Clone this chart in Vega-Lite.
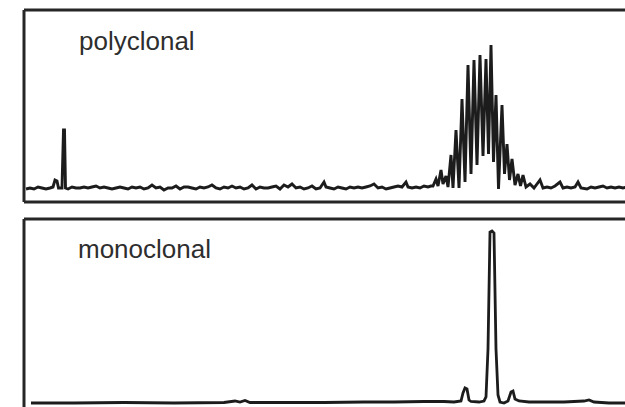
{
  "$schema": "https://vega.github.io/schema/vega-lite/v6.json",
  "padding": {"left": 21, "top": 8, "right": 0, "bottom": 0},
  "spacing": 17,
  "bounds": "flush",
  "background": "white",
  "config": {"view": {"stroke": null}},
  "datasets": {
    "poly": [
      {"x":2,"y":13},{"x":6,"y":14},{"x":10,"y":13},{"x":14,"y":15},{"x":18,"y":14},{"x":22,"y":13},{"x":26,"y":14},{"x":29,"y":15},{"x":31,"y":22},{"x":33,"y":21},{"x":34.5,"y":14},{"x":38,"y":14},{"x":39.5,"y":72},{"x":40.5,"y":72},{"x":41.5,"y":14},{"x":44,"y":13},{"x":48,"y":15},{"x":52,"y":14},{"x":56,"y":14},{"x":60,"y":15},{"x":64,"y":14},{"x":68,"y":15},{"x":72,"y":16},{"x":76,"y":14},{"x":80,"y":15},{"x":84,"y":14},{"x":88,"y":13},{"x":92,"y":14},{"x":96,"y":15},{"x":100,"y":14},{"x":104,"y":13},{"x":108,"y":15},{"x":112,"y":14},{"x":116,"y":15},{"x":120,"y":13},{"x":124,"y":14},{"x":128,"y":17},{"x":132,"y":14},{"x":136,"y":15},{"x":140,"y":12},{"x":144,"y":14},{"x":148,"y":14},{"x":152,"y":16},{"x":156,"y":13},{"x":160,"y":15},{"x":164,"y":15},{"x":168,"y":14},{"x":172,"y":13},{"x":176,"y":15},{"x":180,"y":14},{"x":184,"y":15},{"x":188,"y":17},{"x":192,"y":14},{"x":196,"y":13},{"x":200,"y":15},{"x":204,"y":14},{"x":208,"y":16},{"x":212,"y":14},{"x":216,"y":15},{"x":220,"y":13},{"x":224,"y":14},{"x":228,"y":17},{"x":232,"y":13},{"x":236,"y":15},{"x":240,"y":14},{"x":244,"y":14},{"x":248,"y":15},{"x":252,"y":16},{"x":256,"y":13},{"x":260,"y":17},{"x":264,"y":15},{"x":268,"y":18},{"x":272,"y":14},{"x":276,"y":15},{"x":280,"y":13},{"x":284,"y":14},{"x":288,"y":16},{"x":292,"y":13},{"x":296,"y":14},{"x":300,"y":20},{"x":302,"y":15},{"x":306,"y":14},{"x":310,"y":13},{"x":314,"y":15},{"x":318,"y":14},{"x":322,"y":13},{"x":326,"y":15},{"x":330,"y":14},{"x":334,"y":15},{"x":338,"y":14},{"x":342,"y":15},{"x":346,"y":16},{"x":350,"y":18},{"x":354,"y":14},{"x":358,"y":15},{"x":362,"y":13},{"x":366,"y":14},{"x":370,"y":15},{"x":374,"y":16},{"x":378,"y":15},{"x":382,"y":20},{"x":384,"y":15},{"x":388,"y":14},{"x":392,"y":15},{"x":396,"y":14},{"x":400,"y":16},{"x":404,"y":15},{"x":407,"y":16},
      {"x":409,"y":16},{"x":412,"y":23},{"x":414,"y":16},{"x":417,"y":32},{"x":419,"y":18},{"x":422,"y":26},{"x":424,"y":15},{"x":427,"y":47},{"x":429,"y":14},{"x":432,"y":72},{"x":435,"y":14},{"x":438,"y":103},{"x":441,"y":20},{"x":444,"y":137},{"x":447,"y":28},{"x":450,"y":142},{"x":453,"y":37},{"x":456,"y":147},{"x":459,"y":46},{"x":462,"y":143},{"x":464.5,"y":48},{"x":467,"y":157},{"x":469.5,"y":40},{"x":472,"y":107},{"x":474.5,"y":13},{"x":478,"y":97},{"x":480.5,"y":28},{"x":483,"y":58},{"x":485.5,"y":22},{"x":488,"y":43},{"x":491,"y":17},{"x":494,"y":28},{"x":496.5,"y":16},{"x":499,"y":27},{"x":502,"y":15},{"x":506,"y":18},{"x":510,"y":14},{"x":516,"y":22},{"x":519,"y":14},
      {"x":523,"y":15},{"x":527,"y":14},{"x":531,"y":16},{"x":536,"y":20},{"x":539,"y":14},{"x":543,"y":15},{"x":547,"y":14},{"x":551,"y":15},{"x":554,"y":20},{"x":557,"y":14},{"x":563,"y":13},{"x":567,"y":15},{"x":571,"y":14},{"x":575,"y":15},{"x":579,"y":16},{"x":583,"y":14},{"x":587,"y":15},{"x":591,"y":14},{"x":595,"y":15},{"x":599,"y":14},{"x":604,"y":15}
    ],
    "mono": [
      {"x":7,"y":6},{"x":50,"y":6},{"x":100,"y":6.5},{"x":150,"y":6},{"x":200,"y":6.5},{"x":211,"y":8},{"x":216,"y":7},{"x":221,"y":8.5},{"x":226,"y":6.5},{"x":260,"y":6.5},{"x":300,"y":6.5},{"x":340,"y":7},{"x":370,"y":7},{"x":400,"y":7.5},{"x":420,"y":7.5},{"x":430,"y":7},{"x":437,"y":8},{"x":439,"y":16},{"x":441,"y":21},{"x":443,"y":20},{"x":445,"y":9},{"x":447,"y":7.5},{"x":455,"y":7},{"x":460,"y":8},{"x":462,"y":12},{"x":464,"y":60},{"x":466,"y":177},{"x":468,"y":178},{"x":470,"y":176},{"x":472,"y":60},{"x":474,"y":14},{"x":476,"y":7},{"x":480,"y":6},{"x":484,"y":8},{"x":487,"y":17},{"x":489,"y":18},{"x":491,"y":10},{"x":495,"y":8},{"x":505,"y":7},{"x":520,"y":7},{"x":540,"y":7},{"x":560,"y":8},{"x":565,"y":9},{"x":570,"y":7},{"x":585,"y":6},{"x":603,"y":6}
    ],
    "lab1": [{"label":"polyclonal"}],
    "lab2": [{"label":"monoclonal"}]
  },
  "vconcat": [
    {
      "width": 604,
      "height": 192,
      "layer": [
        {
          "data": {"name": "poly"},
          "mark": {"type": "line", "color": "#1c1c1c", "strokeWidth": 2.9, "strokeJoin": "miter", "strokeMiterLimit": 3},
          "encoding": {
            "x": {"field": "x", "type": "quantitative", "scale": {"domain": [0, 604], "nice": false, "zero": false}, "axis": null},
            "y": {"field": "y", "type": "quantitative", "scale": {"domain": [0, 192], "nice": false}, "axis": null}
          }
        },
        {
          "data": {"values": [{}]},
          "mark": {"type": "rule", "color": "#262626", "strokeWidth": 3},
          "encoding": {"x": {"datum": 0, "type": "quantitative"}}
        },
        {
          "data": {"values": [{}]},
          "mark": {"type": "rule", "color": "#262626", "strokeWidth": 3},
          "encoding": {"y": {"datum": 192, "type": "quantitative"}}
        },
        {
          "data": {"values": [{}]},
          "mark": {"type": "rule", "color": "#262626", "strokeWidth": 3},
          "encoding": {"y": {"datum": 0, "type": "quantitative"}}
        },
        {
          "data": {"name": "lab1"},
          "mark": {"type": "text", "align": "left", "baseline": "alphabetic", "font": "Liberation Sans", "fontSize": 26, "color": "#2e2e2e"},
          "encoding": {
            "x": {"datum": 55, "type": "quantitative"},
            "y": {"datum": 152, "type": "quantitative"},
            "text": {"field": "label"}
          }
        }
      ]
    },
    {
      "width": 603,
      "height": 190,
      "layer": [
        {
          "data": {"name": "mono"},
          "mark": {"type": "line", "color": "#1c1c1c", "strokeWidth": 2.8},
          "encoding": {
            "x": {"field": "x", "type": "quantitative", "scale": {"domain": [0, 603], "nice": false, "zero": false}, "axis": null},
            "y": {"field": "y", "type": "quantitative", "scale": {"domain": [0, 190], "nice": false}, "axis": null}
          }
        },
        {
          "data": {"values": [{}]},
          "mark": {"type": "rule", "color": "#262626", "strokeWidth": 3},
          "encoding": {"x": {"datum": 0, "type": "quantitative"}}
        },
        {
          "data": {"values": [{}]},
          "mark": {"type": "rule", "color": "#262626", "strokeWidth": 3},
          "encoding": {"y": {"datum": 190, "type": "quantitative"}}
        },
        {
          "data": {"name": "lab2"},
          "mark": {"type": "text", "align": "left", "baseline": "alphabetic", "font": "Liberation Sans", "fontSize": 26, "color": "#2e2e2e"},
          "encoding": {
            "x": {"datum": 54, "type": "quantitative"},
            "y": {"datum": 151, "type": "quantitative"},
            "text": {"field": "label"}
          }
        }
      ]
    }
  ]
}
